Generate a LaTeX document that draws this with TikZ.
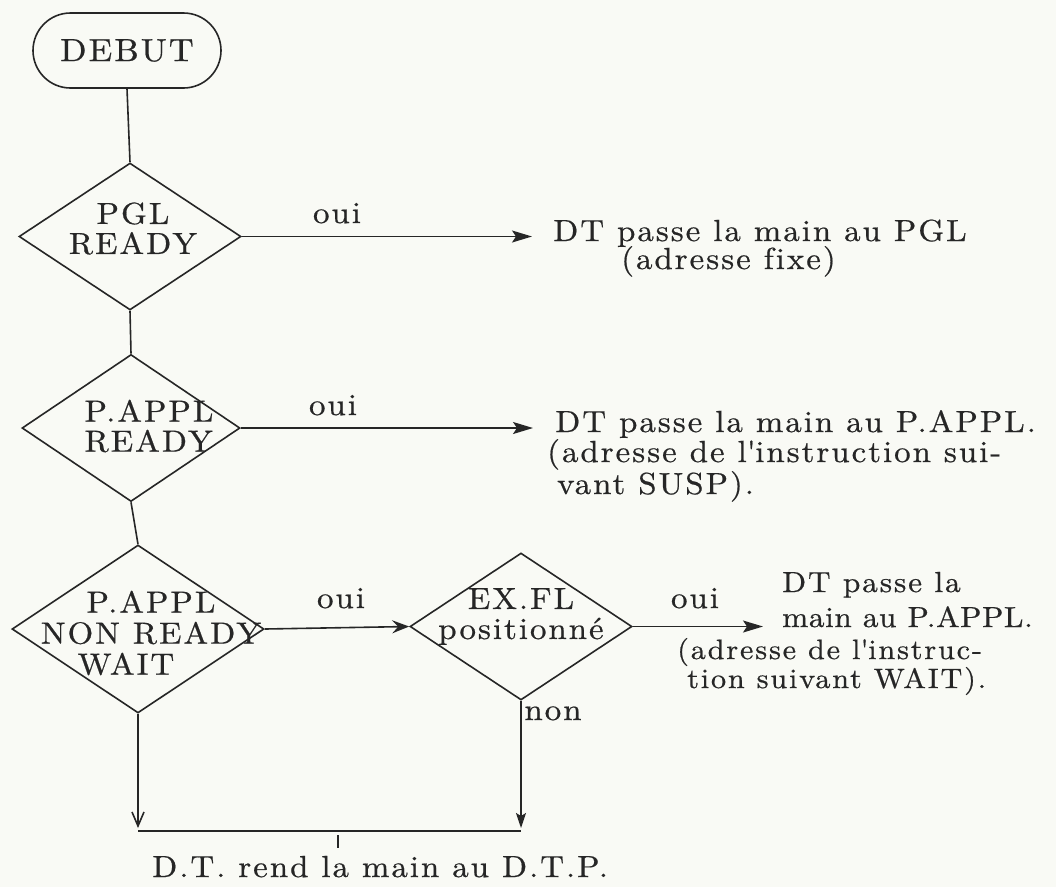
\documentclass[tikz,border=0pt]{standalone}
\usepackage{fontspec}
\newfontfamily\tw{lmroman10-regular}[Extension=.otf, LetterSpace=6.5, FakeStretch=1.08, FakeBold=0.6, Ligatures=NoCommon]
\newfontfamily\twn{lmroman10-regular}[Extension=.otf, LetterSpace=2, FakeStretch=1.08, FakeBold=0.6, Ligatures=NoCommon]
\usetikzlibrary{shapes.geometric, shapes.misc, arrows.meta}
\definecolor{paper}{RGB}{249,250,245}
\definecolor{ink}{RGB}{38,38,38}
\begin{document}
\begin{tikzpicture}[x=1pt,y=-1pt,
  txt/.style={font=\tw\fontsize{30.5}{30}\selectfont, text=ink, inner sep=0pt},
  dec/.style={diamond, draw=ink, line width=1.6pt, inner sep=0pt},
  ln/.style={draw=ink, line width=1.6pt},
  arr/.style={ln, -{Stealth[length=20pt,width=12pt,inset=4pt]}},
  every label/.style={txt, align=center}
]
\fill[paper] (0,0) rectangle (1056,887);
\useasboundingbox (0,0) rectangle (1056,887);

% start
\node[draw=ink, line width=1.6pt, rounded rectangle, minimum width=188pt, minimum height=75pt,
      txt, font=\tw\fontsize{32}{32}\selectfont] (debut) at (127,50.5) {\raisebox{-5pt}{DEBUT}};

% decisions
\node[dec, minimum width=222pt, minimum height=147pt,
      label={[xshift=3pt,yshift=8pt]center:PGL\\READY}] (d1) at (130,236.5) {};
\node[dec, minimum width=218pt, minimum height=147pt,
      label={[xshift=18pt,yshift=2pt,align=left]center:P.APPL\\READY}] (d2) at (131,428) {};
\node[dec, minimum width=252pt, minimum height=168pt,
      label={[xshift=13pt,yshift=-4pt,font=\tw\fontsize{30.5}{31}\selectfont]center:P.APPL\\NON READY\\WAIT\hspace*{50pt}}] (d3) at (138,629) {};
\node[dec, minimum width=222pt, minimum height=147pt,
      label={[xshift=0pt,yshift=10pt]center:EX.FL\\positionné}] (d4) at (521,626.5) {};

% texts
\node[txt, anchor=base west] (t1a) at (553,241) {DT passe la main au PGL};
\node[txt, anchor=base west] (t1b) at (621,269) {(adresse fixe)};

\node[txt, anchor=base west] (t2a) at (555,432) {DT passe la main au P.APPL.};
\node[txt, anchor=base west] (t2b) at (547,462) {(adresse de l\textquotesingle instruction sui-};
\node[txt, anchor=base west] (t2c) at (557,494) {vant SUSP).};

\node[txt, anchor=base west, font=\tw\fontsize{29}{29}\selectfont] (t3a) at (782,592) {DT passe la};
\node[txt, anchor=base west, font=\twn\fontsize{29}{29}\selectfont] (t3b) at (782,627) {main au P.APPL.};
\node[txt, anchor=base west, font=\tw\fontsize{28}{28}\selectfont] (t3c) at (677,659) {(adresse de l\textquotesingle instruc-};
\node[txt, anchor=base west, font=\tw\fontsize{28}{28}\selectfont] (t3d) at (687,688) {tion suivant WAIT).};

\node[txt, anchor=base west] (fin) at (152,877) {D.T. rend la main au D.T.P.};

% labels on connectors
\node[txt, anchor=base] (o1) at (337,223) {oui};
\node[txt, anchor=base] (o2) at (333,415) {oui};
\node[txt, anchor=base] (o3) at (341,608) {oui};
\node[txt, anchor=base] (o4) at (695,608) {oui};
\node[txt, anchor=base] (n1) at (553,720) {non};

% connectors
\draw[ln] (debut.south) -- (d1.north);
\draw[ln] (d1.south) -- (d2.north);
\draw[ln] (d2.south) -- (d3.north);

\draw[arr, shorten >=21pt] (d1.east) -- (d1.east -| t1a.west);
\draw[arr, shorten >=22pt] (d2.east) -- (d2.east -| t2a.west);
\draw[ln, -{Stealth[length=17pt,width=13pt,inset=6pt]}] (d3.east) -- (d4.west);
\draw[arr, shorten >=19pt] (d4.east) -- (d4.east -| t3b.west);

\coordinate (j1) at (138,831);
\coordinate (j2) at (521,831);
\coordinate (tk) at (338,831);
\draw[ln, shorten >=3pt, -{Straight Barb[length=14pt,width=12pt]}] (d3.south) -- (j1);
\draw[ln, shorten >=3pt, -{Stealth[length=15pt,width=10pt,inset=3pt]}] (d4.south) -- (j2);
\draw[ln] (j1) -- (j2);
\draw[ln] ([yshift=-4pt]tk) -- ([yshift=-17pt]tk);
\end{tikzpicture}
\end{document}
